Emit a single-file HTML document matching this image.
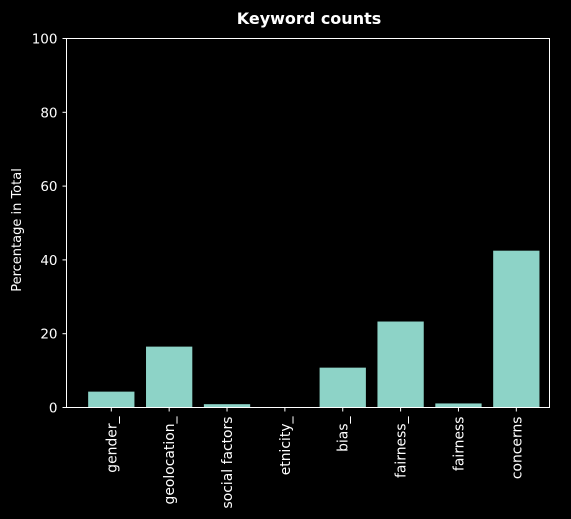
<!DOCTYPE html>
<html><head><meta charset="utf-8"><style>
body{margin:0;background:#000;}
svg{display:block;font-family:"DejaVu Sans","Liberation Sans",sans-serif;}
</style></head><body>
<svg id="chart" width="571" height="519" xmlns="http://www.w3.org/2000/svg">
<rect width="571" height="519" fill="#000"/>
<text x="309" y="24" fill="#fff" font-size="16" font-weight="bold" text-anchor="middle">Keyword counts</text>
<text transform="translate(21,230) rotate(-90)" fill="#fff" font-size="13" text-anchor="middle">Percentage in Total</text>
<g id="bars"></g><g id="yticks"></g><g id="xticks"></g>
<rect x="66.5" y="38.5" width="483" height="369" fill="none" stroke="#fff" stroke-width="1"/>
</svg>
<script>
const categories=["gender_","geolocation_","social factors","etnicity_","bias_","fairness_","fairness","concerns"];
const values=[4.3,16.5,0.9,0,10.8,23.3,1.1,42.5];
const yTicks=[0,20,40,60,80,100];
const ns="http://www.w3.org/2000/svg";
const L=66.5,R=549.5,T=38.5,B=407.5;
const step=57.86, x0=111.3;
function xs(i){return x0+i*step;}
function ys(v){return B-(v/100)*(B-T);}
const bw=0.8*step;
const gb=document.getElementById('bars'),gy=document.getElementById('yticks'),gx=document.getElementById('xticks');
function mk(t,a){const e=document.createElementNS(ns,t);for(const k in a)e.setAttribute(k,a[k]);return e;}
values.forEach((v,i)=>{
 const r=mk('rect',{x:xs(i)-bw/2,y:ys(v),width:bw,height:B-ys(v),fill:'#8dd3c7'});
 
 
 gb.appendChild(r);
});
yTicks.forEach(t=>{
 const y=ys(t);
 const l=mk('line',{x1:L-4,x2:L,y1:y,y2:y,stroke:'#fff'});
 
 
 gy.appendChild(l);
 const tx=mk('text',{x:L-9,y:y+5,fill:'#fff','font-size':'13.5','text-anchor':'end'});
 tx.textContent=t;
 
 
 gy.appendChild(tx);
});
categories.forEach((c,i)=>{
 const x=xs(i);
 const l=mk('line',{x1:x,x2:x,y1:B,y2:B+4,stroke:'#fff'});
 
 
 gx.appendChild(l);
 const tx=mk('text',{transform:`translate(${x+5},${B+9}) rotate(-90)`,fill:'#fff','font-size':'13.9','text-anchor':'end'});
 tx.textContent=c;
 
 
 gx.appendChild(tx);
});
</script>
</body></html>
